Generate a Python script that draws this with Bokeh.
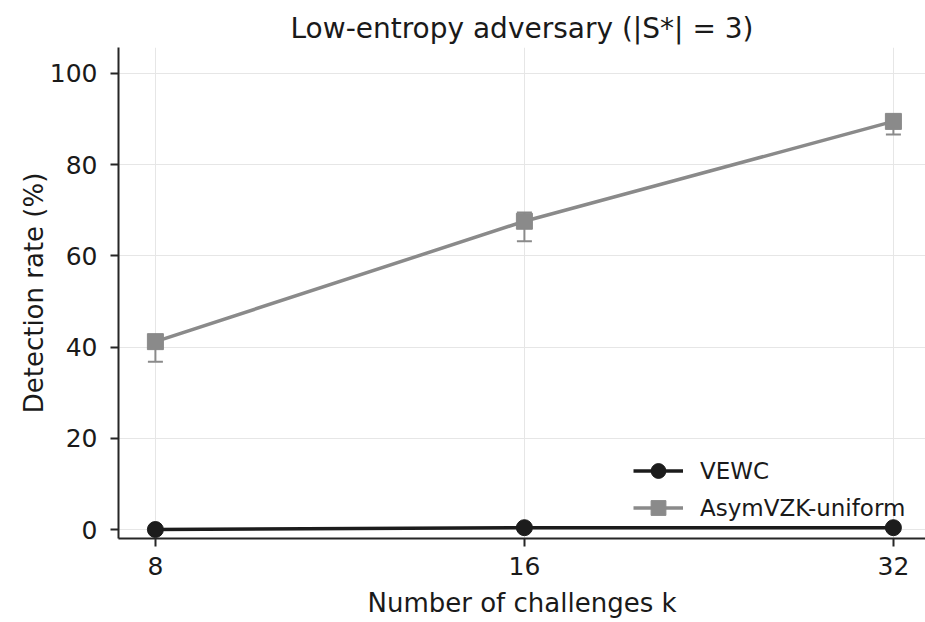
from bokeh.plotting import figure
from bokeh.models import (ColumnDataSource, Range1d, FixedTicker, BasicTickFormatter,
                          Whisker, TeeHead, Legend, LegendItem)
from bokeh.embed import file_html
from bokeh.resources import INLINE

# ---- data ----
challenges = [8, 16, 32]
vewc_rate = [0.0, 0.4, 0.4]
vewc_low = [0.0, 0.1, 0.1]
vewc_high = [0.4, 0.8, 0.8]
asym_rate = [41.2, 67.6, 89.5]
asym_low = [36.8, 63.2, 86.6]
asym_high = [42.5, 69.5, 91.0]
y_ticks = [0, 20, 40, 60, 80, 100]

FONT = "DejaVu Sans"
C_VEWC = "#1c1c1c"
C_ASYM = "#8a8a8a"

p = figure(width=925, height=620, output_backend="svg", toolbar_location=None,
           x_axis_type="log",
           x_range=Range1d(2 ** 2.9, 2 ** 5.087), y_range=Range1d(-1.97, 105.7),
           min_border_left=118, min_border_right=0, min_border_top=47, min_border_bottom=82)
p.outline_line_color = None
p.background_fill_color = "white"
p.border_fill_color = "white"

p.title.text = "Low-entropy adversary (|S*| = 3)"
p.title.text_font = FONT
p.title.text_font_size = "28px"
p.title.text_font_style = "normal"
p.title.align = "center"
p.title.vertical_align = "middle"
p.title.text_color = "#1a1a1a"
p.title.standoff = 4

# axes
p.xaxis.ticker = FixedTicker(ticks=challenges)
p.xaxis.formatter = BasicTickFormatter()
p.yaxis.ticker = FixedTicker(ticks=y_ticks)
for ax in (p.xaxis, p.yaxis):
    ax.axis_line_width = 2
    ax.axis_line_color = "#262626"
    ax.major_tick_line_width = 2
    ax.major_tick_line_color = "#262626"
    ax.major_tick_in = 0
    ax.major_tick_out = 8
    ax.minor_tick_line_color = None
    ax.major_label_text_font = FONT
    ax.major_label_text_font_size = "25px"
    ax.major_label_text_color = "#1a1a1a"
    ax.axis_label_text_font = FONT
    ax.axis_label_text_font_size = "26px"
    ax.axis_label_text_font_style = "normal"
    ax.axis_label_text_color = "#1a1a1a"
p.xaxis.axis_label = "Number of challenges k"
p.yaxis.axis_label = "Detection rate (%)"
p.xaxis.major_label_standoff = 10
p.yaxis.major_label_standoff = 13
p.xaxis.axis_label_standoff = 10
p.yaxis.axis_label_standoff = -2

p.xgrid.grid_line_color = "#e6e6e6"
p.ygrid.grid_line_color = "#e6e6e6"
p.xgrid.grid_line_width = 1
p.ygrid.grid_line_width = 1

src_v = ColumnDataSource(dict(x=challenges, y=vewc_rate, lo=vewc_low, hi=vewc_high))
src_a = ColumnDataSource(dict(x=challenges, y=asym_rate, lo=asym_low, hi=asym_high))

items = []
for src, col, marker, name in ((src_v, C_VEWC, "circle", "VEWC"),
                               (src_a, C_ASYM, "square", "AsymVZK-uniform")):
    w = Whisker(source=src, base="x", lower="lo", upper="hi", line_color=col, line_width=2,
                upper_head=TeeHead(size=15, line_color=col, line_width=2),
                lower_head=TeeHead(size=15, line_color=col, line_width=2))
    p.add_layout(w)
    ln = p.line("x", "y", source=src, line_color=col, line_width=3.5)
    mk = p.scatter("x", "y", source=src, marker=marker, size=16,
                   fill_color=col, line_color=col)
    items.append(LegendItem(label=name, renderers=[ln, mk]))

legend = Legend(items=items, location=(515, 12), orientation="vertical",
                border_line_color=None, background_fill_alpha=0,
                label_text_font=FONT, label_text_font_size="23px",
                label_text_color="#1a1a1a",
                glyph_width=50, glyph_height=37, label_height=37,
                spacing=0, padding=5, margin=0, label_standoff=17)
p.add_layout(legend, "center")

open("out.html", "w").write(file_html(p, INLINE))
